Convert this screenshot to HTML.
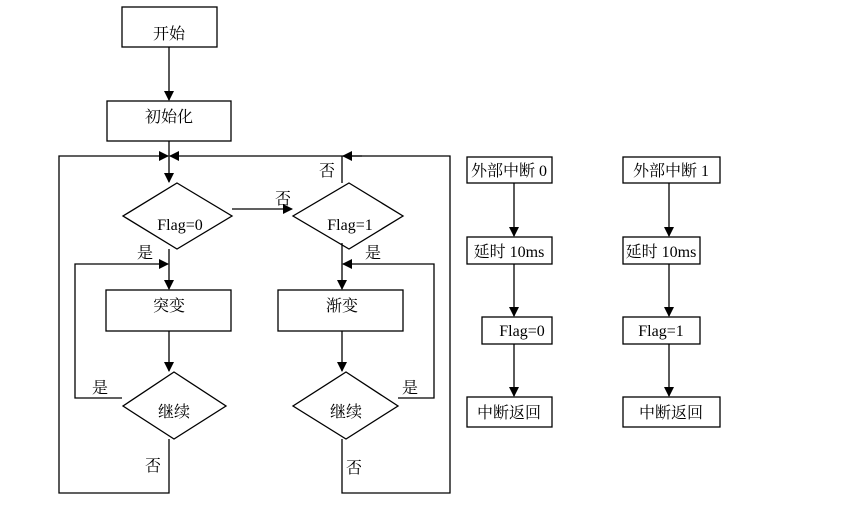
<!DOCTYPE html>
<html><head><meta charset="utf-8"><style>
body{margin:0;background:#fff;}
svg{display:block;}
text{font-family:"Liberation Serif","Noto Serif CJK SC","Noto Sans CJK SC",serif;font-size:16px;fill:#000;}
</style></head><body>
<svg width="857" height="509" viewBox="0 0 857 509" xmlns="http://www.w3.org/2000/svg">
<defs>
<marker id="a" markerWidth="10" markerHeight="10" refX="9" refY="5" orient="auto" markerUnits="userSpaceOnUse"><path d="M0,0 L10,5 L0,10 z" fill="#000"/></marker>
</defs>
<g fill="none" stroke="#000" stroke-width="1.3">
<rect x="122" y="7" width="95" height="40"/>
<rect x="107" y="101" width="124" height="40"/>
<path d="M169,47 V100" marker-end="url(#a)"/>
<path d="M169,141 V182" marker-end="url(#a)"/>
<path d="M169,439 V493 H59 V156 H168" marker-end="url(#a)"/>
<path d="M342,439 V493 H450 V156 H170" marker-end="url(#a)"/>
<polygon points="177,183 232,216 177,249 123,216"/>
<path d="M232,209 H292" marker-end="url(#a)"/>
<polygon points="349,183 403,216 349,249 293,216"/>
<path d="M342,183 V156"/>
<path d="M362,156 H343" marker-end="url(#a)"/>
<path d="M169,249 V289" marker-end="url(#a)"/>
<path d="M342,243 V289" marker-end="url(#a)"/>
<rect x="106" y="290" width="125" height="41"/>
<rect x="278" y="290" width="125" height="41"/>
<path d="M169,331 V371" marker-end="url(#a)"/>
<path d="M342,331 V371" marker-end="url(#a)"/>
<polygon points="174,372 226,406 174,439 123,406"/>
<polygon points="346,372 398,406 346,439 293,406"/>
<path d="M122,398 H75 V264 H168" marker-end="url(#a)"/>
<path d="M398,398 H434 V264 H343" marker-end="url(#a)"/>
<rect x="467" y="157" width="85" height="26"/>
<rect x="467" y="237" width="85" height="27"/>
<rect x="482" y="317" width="70" height="27"/>
<rect x="467" y="397" width="85" height="30"/>
<path d="M514,183 V236" marker-end="url(#a)"/>
<path d="M514,264 V316" marker-end="url(#a)"/>
<path d="M514,344 V396" marker-end="url(#a)"/>
<rect x="623" y="157" width="97" height="26"/>
<rect x="623" y="237" width="77" height="27"/>
<rect x="623" y="317" width="77" height="27"/>
<rect x="623" y="397" width="97" height="30"/>
<path d="M669,183 V236" marker-end="url(#a)"/>
<path d="M669,264 V316" marker-end="url(#a)"/>
<path d="M669,344 V396" marker-end="url(#a)"/>
</g>
<g text-anchor="middle">
<text x="169" y="39">开始</text>
<text x="169" y="122">初始化</text>
<text x="180" y="230">Flag=0</text>
<text x="350" y="230">Flag=1</text>
<text x="169" y="311">突变</text>
<text x="342" y="311">渐变</text>
<text x="174" y="417">继续</text>
<text x="346" y="417">继续</text>
<text x="509" y="176">外部中断 0</text>
<text x="509" y="257">延时 10ms</text>
<text x="522" y="336">Flag=0</text>
<text x="509" y="418">中断返回</text>
<text x="671" y="176">外部中断 1</text>
<text x="661" y="257">延时 10ms</text>
<text x="661" y="336">Flag=1</text>
<text x="671" y="418">中断返回</text>
<text x="327" y="176">否</text>
<text x="283" y="204">否</text>
<text x="145" y="258">是</text>
<text x="373" y="258">是</text>
<text x="100" y="393">是</text>
<text x="410" y="393">是</text>
<text x="153" y="471">否</text>
<text x="354" y="473">否</text>
</g>
</svg>
</body></html>
